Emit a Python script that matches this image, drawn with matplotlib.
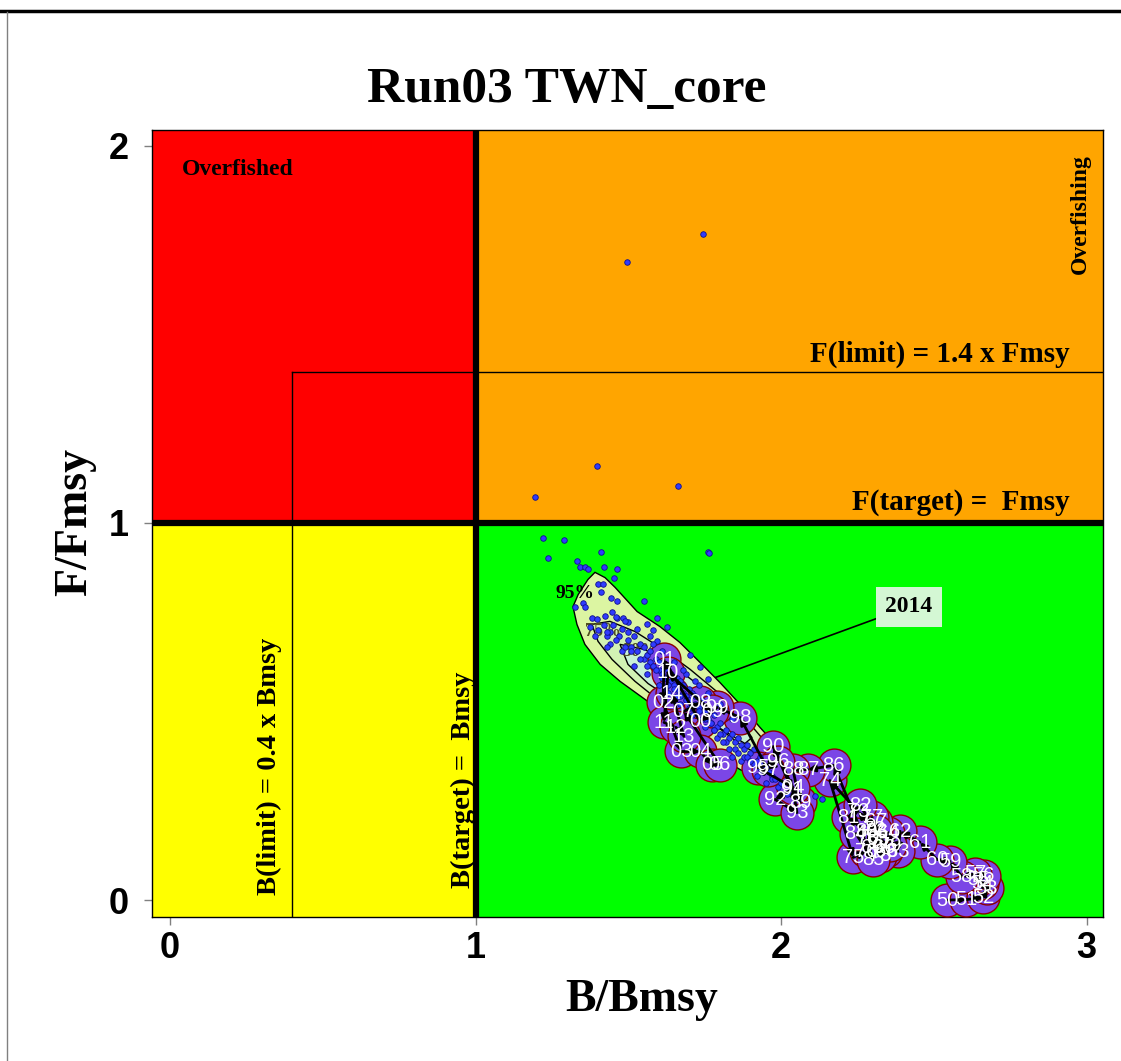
import numpy as np
import matplotlib.pyplot as plt
from matplotlib.patches import Rectangle, Polygon
from matplotlib.lines import Line2D

# trajectory B/Bmsy, F/Fmsy by year (1950-2014)
years = np.arange(1950, 2015)
bratio = np.array([2.543, 2.606, 2.661, 2.674, 2.658, 2.645, 2.664, 2.635, 2.592, 2.553,
                   2.511, 2.455, 2.390, 2.383, 2.350, 2.318, 2.337, 2.311, 2.344, 2.298,
                   2.285, 2.324, 2.304, 2.252, 2.160, 2.236, 2.278, 2.298, 2.324, 2.357,
                   2.278, 2.219, 2.259, 2.311, 2.245, 2.301, 2.173, 2.088, 2.039, 2.062,
                   1.974, 2.036, 1.980, 2.052, 2.039, 1.925, 1.990, 1.957, 1.866, 1.791,
                   1.735, 1.617, 1.614, 1.673, 1.735, 1.774, 1.800, 1.682, 1.735, 1.774,
                   1.630, 1.617, 1.656, 1.682, 1.643])
fratio = np.array([0.000, 0.001, 0.007, 0.031, 0.044, 0.054, 0.065, 0.070, 0.062, 0.102,
                   0.107, 0.153, 0.182, 0.129, 0.179, 0.160, 0.139, 0.208, 0.129, 0.139,
                   0.166, 0.153, 0.187, 0.235, 0.317, 0.113, 0.129, 0.219, 0.118, 0.145,
                   0.182, 0.219, 0.251, 0.182, 0.176, 0.107, 0.357, 0.346, 0.346, 0.259,
                   0.407, 0.293, 0.267, 0.232, 0.298, 0.351, 0.367, 0.346, 0.484, 0.511,
                   0.473, 0.638, 0.524, 0.394, 0.394, 0.359, 0.359, 0.500, 0.524, 0.500,
                   0.603, 0.471, 0.458, 0.434, 0.548])

# uncertainty samples for the last year
mc_b = [1.496, 1.745, 1.398, 1.663, 1.195, 1.761, 1.221, 1.290, 1.237, 1.411, 1.332, 1.342,
        1.358, 1.368, 1.421, 1.463, 1.453, 1.764, 1.552, 1.401, 1.417, 1.411, 1.444, 1.463,
        1.326, 1.352, 1.358, 1.381, 1.398, 1.424, 1.447, 1.463, 1.483, 1.499, 1.561, 1.594,
        1.627, 1.581, 1.571, 1.594, 1.702, 1.735, 1.761, 1.375, 1.401, 1.430,
        2.111, 2.134, 2.373,
        1.42, 1.44, 1.45, 1.47, 1.48, 1.50, 1.50, 1.51, 1.52, 1.53, 1.54, 1.55, 1.55, 1.56,
        1.57, 1.57, 1.58, 1.59, 1.60, 1.60, 1.61, 1.62, 1.62, 1.63, 1.64, 1.64, 1.65, 1.66,
        1.66, 1.67, 1.68, 1.68, 1.69, 1.70, 1.70, 1.71, 1.72, 1.72, 1.73, 1.74, 1.75, 1.76,
        1.76, 1.77, 1.78, 1.79, 1.80, 1.81, 1.82, 1.83, 1.84, 1.85, 1.86, 1.87, 1.88, 1.89,
        1.90, 1.91, 1.92, 1.93, 1.94, 1.95, 1.96, 1.97,
        1.46, 1.49, 1.53, 1.58, 1.61, 1.65, 1.69, 1.73, 1.52, 1.56, 1.60, 1.63, 1.67, 1.71,
        1.75, 1.79, 1.83, 1.87, 1.91, 1.92, 1.95, 1.99, 1.84, 1.88, 1.44, 1.48, 1.39, 1.43,
        1.43, 1.46, 1.49, 1.51, 1.54, 1.56, 1.59, 1.61, 1.63, 1.65, 1.67, 1.69, 1.71, 1.73,
        1.75, 1.77, 1.78, 1.80, 1.82, 1.85, 1.89, 1.93, 1.97, 2.00, 1.62, 1.66, 1.70, 1.74,
        1.78, 1.81, 1.86, 1.90, 1.94, 1.98, 2.02, 1.68, 1.72, 1.76, 1.80, 1.84]
mc_f = [1.691, 1.765, 1.152, 1.099, 1.070, 0.922, 0.961, 0.956, 0.906, 0.922, 0.900, 0.882,
        0.884, 0.879, 0.884, 0.879, 0.855, 0.919, 0.794, 0.837, 0.837, 0.818, 0.802, 0.792,
        0.778, 0.789, 0.776, 0.749, 0.744, 0.752, 0.765, 0.747, 0.749, 0.736, 0.733, 0.747,
        0.725, 0.715, 0.699, 0.686, 0.651, 0.617, 0.585, 0.725, 0.717, 0.699,
        0.277, 0.267, 0.139,
        0.73, 0.71, 0.73, 0.70, 0.72, 0.69, 0.71, 0.67, 0.70, 0.66, 0.68, 0.64, 0.67, 0.65,
        0.63, 0.66, 0.62, 0.64, 0.61, 0.63, 0.60, 0.62, 0.59, 0.61, 0.58, 0.60, 0.57, 0.59,
        0.56, 0.58, 0.55, 0.57, 0.54, 0.56, 0.53, 0.55, 0.52, 0.54, 0.51, 0.53, 0.50, 0.48,
        0.51, 0.47, 0.49, 0.46, 0.47, 0.44, 0.45, 0.43, 0.44, 0.42, 0.43, 0.41, 0.40, 0.41,
        0.39, 0.40, 0.37, 0.38, 0.36, 0.35, 0.34, 0.33,
        0.75, 0.74, 0.72, 0.68, 0.66, 0.63, 0.60, 0.57, 0.62, 0.60, 0.57, 0.55, 0.52, 0.49,
        0.46, 0.43, 0.40, 0.37, 0.36, 0.33, 0.31, 0.30, 0.38, 0.38, 0.68, 0.66, 0.70, 0.67,
        0.71, 0.69, 0.67, 0.66, 0.64, 0.62, 0.61, 0.59, 0.57, 0.56, 0.54, 0.53, 0.51, 0.50,
        0.48, 0.47, 0.45, 0.44, 0.42, 0.40, 0.38, 0.35, 0.32, 0.31, 0.56, 0.54, 0.51, 0.48,
        0.45, 0.42, 0.39, 0.37, 0.34, 0.32, 0.28, 0.61, 0.58, 0.55, 0.52, 0.48]

# density contours of the samples
c95_b = [1.391, 1.424, 1.457, 1.529, 1.604, 1.669, 1.735, 1.800, 1.866, 1.931, 1.990, 2.013,
         1.980, 1.921, 1.866, 1.800, 1.735, 1.637, 1.555, 1.473, 1.408, 1.358, 1.332, 1.319,
         1.336, 1.368]
c95_f = [0.869, 0.855, 0.829, 0.765, 0.725, 0.683, 0.630, 0.577, 0.519, 0.458, 0.405, 0.368,
         0.333, 0.325, 0.346, 0.378, 0.420, 0.484, 0.532, 0.580, 0.625, 0.678, 0.731, 0.778,
         0.810, 0.850]
c75_b = [1.381, 1.440, 1.522, 1.604, 1.702, 1.800, 1.899, 1.964, 1.938, 1.866, 1.768, 1.669,
         1.588, 1.522, 1.447, 1.401]
c75_f = [0.731, 0.739, 0.712, 0.670, 0.612, 0.546, 0.466, 0.405, 0.381, 0.413, 0.474, 0.519,
         0.537, 0.580, 0.638, 0.686]
c50_b = [1.473, 1.555, 1.653, 1.751, 1.849, 1.905, 1.882, 1.817, 1.735, 1.643, 1.565, 1.499]
c50_f = [0.678, 0.664, 0.617, 0.558, 0.484, 0.431, 0.415, 0.447, 0.489, 0.532, 0.574, 0.625]

serif = ['Liberation Serif', 'DejaVu Serif']
narrow = ['Liberation Sans Narrow', 'Liberation Sans', 'DejaVu Sans']

fig = plt.figure(figsize=(11.21, 10.61), dpi=100)
ax = fig.add_axes([152 / 1121, 1 - 917 / 1061, (1103 - 152) / 1121, (917 - 130) / 1061])
ax.set_xlim(-0.059, 3.054)
ax.set_ylim(-0.045, 2.042)

# kobe quadrants
ax.add_patch(Rectangle((-1, 1), 2, 2, color='#FF0000', zorder=0))
ax.add_patch(Rectangle((1, 1), 3, 2, color='#FFA500', zorder=0))
ax.add_patch(Rectangle((-1, -1), 2, 2, color='#FFFF00', zorder=0))
ax.add_patch(Rectangle((1, -1), 3, 2, color='#00FF00', zorder=0))

ax.axhline(1, color='black', lw=4.5, zorder=1)
ax.axvline(1, color='black', lw=4.5, zorder=1)
ax.plot([0.4, 4], [1.4, 1.4], color='black', lw=1, zorder=1)
ax.plot([0.4, 0.4], [-1, 1.4], color='black', lw=1, zorder=1)

# label line for the last year (drawn under the contours)
ax.plot([2.419, bratio[-1]], [0.778, fratio[-1]], color='black', lw=1.2, zorder=1.5)

ax.add_patch(Polygon(np.column_stack([c95_b, c95_f]), closed=True, fc='#DCF5A2', ec='black', lw=1, zorder=2))
ax.add_patch(Polygon(np.column_stack([c75_b, c75_f]), closed=True, fc='#D2F2B4', ec='black', lw=1, zorder=2))
ax.add_patch(Polygon(np.column_stack([c50_b, c50_f]), closed=True, fc='#C8F0D8', ec='black', lw=1, zorder=2))
ax.text(1.326, 0.812, '95%', fontsize=14, fontweight='bold', family=serif, ha='center', va='center', zorder=2.5)
ax.text(1.417, 0.712, '75%', fontsize=13, fontweight='bold', family=serif, color='#505020', ha='center', va='center', zorder=2.5)
ax.text(1.538, 0.659, '50%', fontsize=13, fontweight='bold', family=serif, color='#505020', ha='center', va='center', zorder=2.5)

# yearly points
ax.scatter(bratio, fratio, s=560, c='#7B46E6', edgecolors='#8B0000', linewidths=1, zorder=3)
ax.scatter(mc_b, mc_f, s=16, c='#2F3BFF', edgecolors='#10108A', linewidths=0.6, zorder=4)
for i in range(len(years) - 1):
    ax.annotate('', xy=(bratio[i + 1], fratio[i + 1]), xytext=(bratio[i], fratio[i]),
                arrowprops=dict(arrowstyle='-|>', color='black', lw=2, mutation_scale=10,
                                shrinkA=0, shrinkB=0), zorder=5)
for yr, b, f in zip(years, bratio, fratio):
    ax.text(b, f, str(yr)[2:], color='white', fontsize=14.5, family=narrow,
            ha='center', va='center', zorder=6)

ax.text(2.419, 0.778, '2014', fontsize=17, fontweight='bold', family=serif, ha='center', va='center',
        zorder=7, bbox=dict(boxstyle='square,pad=0.4', fc='#D4F7D4', ec='none'))

# zone labels
ax.text(0.039, 1.938, 'Overfished', fontsize=17, fontweight='bold', family=serif, ha='left', va='center')
ax.text(2.979, 1.818, 'Overfishing', fontsize=17, fontweight='bold', family=serif, rotation=90,
        ha='center', va='center')
ax.text(2.946, 1.447, 'F(limit) = 1.4 x Fmsy', fontsize=21, fontweight='bold', family=serif,
        ha='right', va='center')
ax.text(2.946, 1.054, 'F(target) =  Fmsy', fontsize=21, fontweight='bold', family=serif,
        ha='right', va='center')
ax.text(0.327, 0.354, 'B(limit) = 0.4 x Bmsy', fontsize=20.5, fontweight='bold', family=serif,
        rotation=90, ha='center', va='center')
ax.text(0.959, 0.320, 'B(target) =  Bmsy', fontsize=20.5, fontweight='bold', family=serif,
        rotation=90, ha='center', va='center')

ax.set_xticks([0, 1, 2, 3])
ax.set_yticks([0, 1, 2])
ax.tick_params(axis='both', length=6, color='gray', width=1)
ax.tick_params(axis='x', pad=4)
ax.tick_params(axis='y', pad=11)
for lab in ax.get_xticklabels() + ax.get_yticklabels():
    lab.set_fontfamily(narrow)
    lab.set_fontsize(26)
    lab.set_fontweight('bold')
for sp in ax.spines.values():
    sp.set_linewidth(1)

fig.text(0.506, 0.915, 'Run03 TWN_core', fontsize=37, fontweight='bold', family=serif,
         ha='center', va='center')
fig.text(0.572, 0.0575, 'B/Bmsy', fontsize=33, fontweight='bold', family=serif, ha='center', va='center')
fig.text(0.067, 0.508, 'F/Fmsy', fontsize=33, fontweight='bold', family=serif, rotation=90,
         ha='center', va='center')

# page frame
fig.add_artist(Line2D([0, 1], [1 - 11 / 1061, 1 - 11 / 1061], color='black', lw=2.5))
fig.add_artist(Line2D([7 / 1121, 7 / 1121], [0, 1 - 12 / 1061], color='gray', lw=1))

fig.savefig('out.png', dpi=100)
